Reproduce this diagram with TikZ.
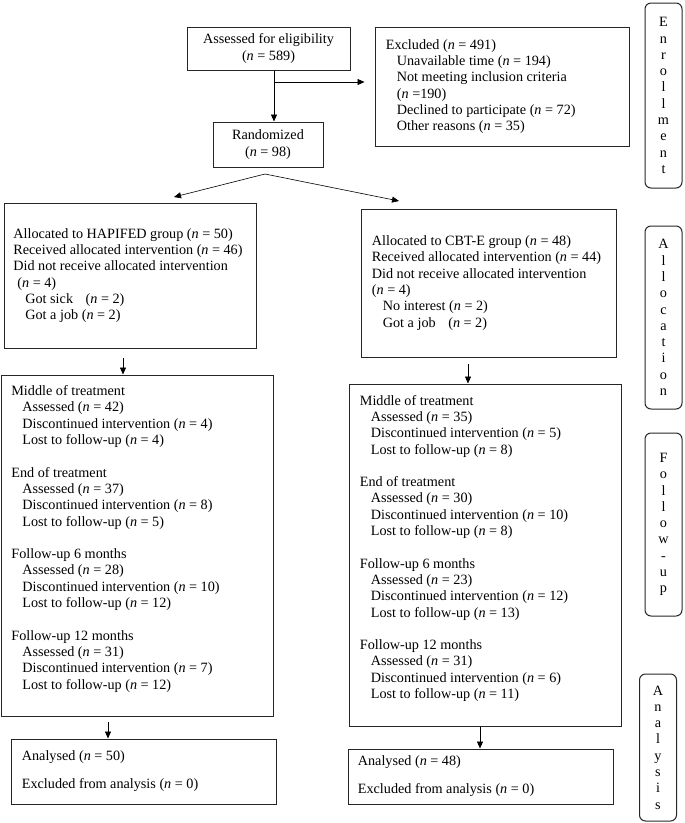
\documentclass[tikz,border=0pt]{standalone}
\usepackage{fontspec}
\setmainfont{Liberation Serif}
\usetikzlibrary{arrows.meta}
\newcommand{\enn}{\textit{n}}
\newcommand{\indnt}{\hspace*{11pt}}
\tikzset{every picture/.style={line width=0.75pt}}
\tikzset{
	txt/.style={inner sep=0pt, align=left, font=\fontsize{14.2}{16.3}\selectfont},
	box/.style={draw=black!85, line width=1pt, inner sep=0pt, align=center, font=\fontsize{14.2}{16.3}\selectfont},
	sidebox/.style={box, rounded corners=6pt, minimum width=37pt},
	flowarrow/.style={draw=black, line width=0.6pt, -{Triangle[length=7pt,width=6pt]}}}

\begin{document}
\begin{tikzpicture}[x=1pt,y=1pt,yscale=-1,xscale=1]
	\useasboundingbox (0,0) rectangle (685,823);

	%Shape: Rectangle
	\node[box, minimum width=163pt, minimum height=43pt] (elig) at (268.5,48.5) {Assessed for eligibility\\(\enn{} = 589)};
	%Shape: Rectangle
	\node[box, minimum width=254pt, minimum height=119pt] (excl) at (502,86.5) {};
	%Shape: Rectangle
	\node[box, minimum width=110pt, minimum height=45pt] (rand) at (268,144.5) {Randomized\\(\enn{} = 98)};
	%Shape: Rectangle
	\node[box, minimum width=252pt, minimum height=145pt] (hap) at (130,275.5) {};
	%Shape: Rectangle
	\node[box, minimum width=255pt, minimum height=148pt] (cbt) at (488.5,283) {};
	%Shape: Rectangle
	\node[box, minimum width=272pt, minimum height=341pt] (lfu) at (137,545.5) {};
	%Shape: Rectangle
	\node[box, minimum width=272pt, minimum height=342pt] (rfu) at (485,555) {};
	%Shape: Rectangle
	\node[box, minimum width=265pt, minimum height=65pt] (lan) at (143.5,771.5) {};
	%Shape: Rectangle
	\node[box, minimum width=265pt, minimum height=55pt] (ran) at (480.5,776.5) {};

	%Shape: Rounded Rect
	\node[sidebox, minimum height=185pt] (enr) at (663.5,95.5) {E\\n\\r\\o\\l\\l\\m\\e\\n\\t};
	%Shape: Rounded Rect
	\node[sidebox, minimum height=183pt] (alc) at (663.5,317.5) {A\\l\\l\\o\\c\\a\\t\\i\\o\\n};
	%Shape: Rounded Rect
	\node[sidebox, minimum height=183pt] (fol) at (663.5,524.5) {F\\o\\l\\l\\o\\w\\-\\u\\p};
	%Shape: Rounded Rect
	\node[sidebox, minimum height=147pt] (ana) at (658,747.5) {A\\n\\a\\l\\y\\s\\i\\s};

	% Text Node
	\node[txt, anchor=west] (excltxt) at ([xshift=11pt]excl.west) {Excluded (\enn{} = 491)\\\indnt Unavailable time (\enn{} = 194)\\\indnt Not meeting inclusion criteria\\\indnt (\enn{} =190)\\\indnt Declined to participate (\enn{} = 72)\\\indnt Other reasons (\enn{} = 35)};
	% Text Node
	\node[txt, anchor=west] (haptxt) at ([xshift=9.5pt]hap.west) {Allocated to HAPIFED group (\enn{} = 50)\\Received allocated intervention (\enn{} = 46)\\Did not receive allocated intervention\\\hspace*{4pt}(\enn{} = 4)\\\hspace*{12pt}Got sick\hspace{9pt} (\enn{} = 2)\\\hspace*{12pt}Got a job (\enn{} = 2)};
	% Text Node
	\node[txt, anchor=west] (cbttxt) at ([xshift=11pt]cbt.west) {Allocated to CBT-E group (\enn{} = 48)\\Received allocated intervention (\enn{} = 44)\\Did not receive allocated intervention\\(\enn{} = 4)\\\indnt No interest (\enn{} = 2)\\\indnt Got a job\hspace{9pt} (\enn{} = 2)};
	% Text Node
	\node[txt, anchor=west] (lfutxt) at ([xshift=10.5pt]lfu.west) {Middle of treatment\\\indnt Assessed (\enn{} = 42)\\\indnt Discontinued intervention (\enn{} = 4)\\\indnt Lost to follow-up (\enn{} = 4)\\[16.3pt]End of treatment\\\indnt Assessed (\enn{} = 37)\\\indnt Discontinued intervention (\enn{} = 8)\\\indnt Lost to follow-up (\enn{} = 5)\\[16.3pt]Follow-up 6 months\\\indnt Assessed (\enn{} = 28)\\\indnt Discontinued intervention (\enn{} = 10)\\\indnt Lost to follow-up (\enn{} = 12)\\[16.3pt]Follow-up 12 months\\\indnt Assessed (\enn{} = 31)\\\indnt Discontinued intervention (\enn{} = 7)\\\indnt Lost to follow-up (\enn{} = 12)\\\mbox{}};
	% Text Node
	\node[txt, anchor=west] (rfutxt) at ([xshift=11pt]rfu.west) {Middle of treatment\\\indnt Assessed (\enn{} = 35)\\\indnt Discontinued intervention (\enn{} = 5)\\\indnt Lost to follow-up (\enn{} = 8)\\[16.3pt]End of treatment\\\indnt Assessed (\enn{} = 30)\\\indnt Discontinued intervention (\enn{} = 10)\\\indnt Lost to follow-up (\enn{} = 8)\\[16.3pt]Follow-up 6 months\\\indnt Assessed (\enn{} = 23)\\\indnt Discontinued intervention (\enn{} = 12)\\\indnt Lost to follow-up (\enn{} = 13)\\[16.3pt]Follow-up 12 months\\\indnt Assessed (\enn{} = 31)\\\indnt Discontinued intervention (\enn{} = 6)\\\indnt Lost to follow-up (\enn{} = 11)\\\mbox{}};
	% Text Node
	\node[txt, anchor=west] (lantxt) at ([xshift=11pt]lan.west) {Analysed (\enn{} = 50)\\[11.7pt]Excluded from analysis (\enn{} = 0)};
	% Text Node
	\node[txt, anchor=west] (rantxt) at ([xshift=10pt]ran.west) {Analysed (\enn{} = 48)\\[11.7pt]Excluded from analysis (\enn{} = 0)};

	\coordinate (trunk) at (274,82);
	\coordinate (split) at (265,174);
	\coordinate (hapin) at (174,197);
	\coordinate (cbtin) at (399,201);

	%Straight Lines
	\draw[flowarrow] (elig.south -| trunk) -- (rand.north -| trunk);
	\draw[flowarrow, shorten >=10pt] (trunk) -- (excl.west |- trunk);
	%Straight Lines
	\draw[flowarrow] (split) -- (hapin);
	\draw[flowarrow] (split) -- (cbtin);
	%Straight Lines
	\draw[flowarrow, shorten <=9pt] ([xshift=-7pt]hap.south) -- ([xshift=-7pt]hap.south |- lfu.north);
	\draw[flowarrow, shorten <=6pt] ([xshift=-20.5pt]cbt.south) -- ([xshift=-20.5pt]cbt.south |- rfu.north);
	%Straight Lines
	\draw[flowarrow, shorten <=5pt] ([xshift=-29pt]lfu.south) -- ([xshift=-29pt]lfu.south |- lan.north);
	\draw[flowarrow] ([xshift=-5pt]rfu.south) -- ([xshift=-5pt]rfu.south |- ran.north);

\end{tikzpicture}
\end{document}
